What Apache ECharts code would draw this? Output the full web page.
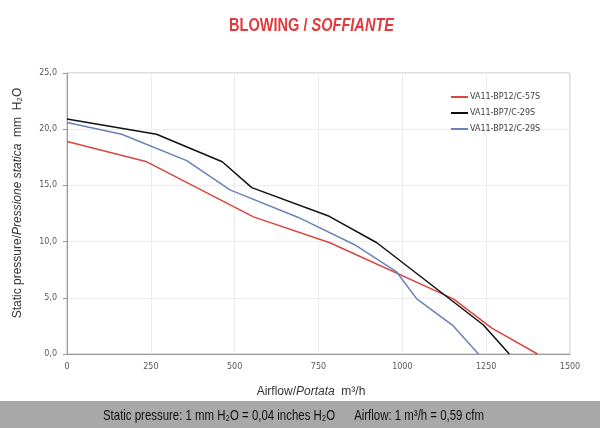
<!DOCTYPE html>
<html><head><meta charset="utf-8">
<script src="https://cdn.jsdelivr.net/npm/echarts@6/dist/echarts.min.js"></script>
<style>html,body{margin:0;padding:0;background:#fff}#c{width:600px;height:428px}</style>
</head><body><div id="c"></div>
<script>
const seriesNames = ['VA11-BP12/C-57S', 'VA11-BP7/C-29S', 'VA11-BP12/C-29S'];
const redX = [0, 238, 556, 784, 1152, 1267, 1403];
const redY = [18.9, 17.1, 12.2, 9.9, 4.9, 2.3, 0];
const blackX = [0, 267, 463, 551, 782, 924, 1241, 1319];
const blackY = [20.9, 19.55, 17.1, 14.8, 12.25, 9.9, 2.6, 0];
const blueX = [0, 163, 357, 486, 690, 859, 983, 1043, 1152, 1227];
const blueY = [20.6, 19.55, 17.2, 14.6, 12.15, 9.7, 7.3, 4.9, 2.5, 0];
const colors = ['#d9463e', '#111111', '#6b82b8'];
const titleA = 'BLOWING / ', titleB = 'SOFFIANTE';
const footText = 'Static pressure: 1 mm H₂O = 0,04 inches H₂O      Airflow: 1 m³/h = 0,59 cfm';

const FONT = '"Liberation Sans", Arial, sans-serif';
const ctx = document.createElement('canvas').getContext('2d');
function tw(text, font) { ctx.font = font; return ctx.measureText(text).width; }
const titleW = tw(titleA, 'bold 18px ' + FONT) + tw(titleB, 'italic bold 18px ' + FONT);
const titleScale = 165 / titleW;
const footScale = 381 / tw(footText, '15px ' + FONT);

const zip = (xs, ys) => xs.map((x, i) => [x, ys[i]]);
const chart = echarts.init(document.getElementById('c'));
chart.setOption({
  animation: false,
  legend: {
    orient: 'vertical', left: 446, top: 88, itemWidth: 17, itemHeight: 2, itemGap: 8,
    icon: 'rect',
    textStyle: { fontFamily: 'DejaVu Sans', fontSize: 8, color: '#404040', padding: [0, 0, 0, -3] },
    data: seriesNames
  },
  grid: { left: 67, right: 30, top: 73, bottom: 74, show: true, borderColor: '#bdbdbd', borderWidth: 1 },
  xAxis: {
    type: 'value', min: 0, max: 1500, interval: 250,
    axisLine: { show: true, lineStyle: { color: '#999' } },
    axisTick: { show: false },
    axisLabel: { fontFamily: 'DejaVu Sans', fontSize: 8, color: '#595959', margin: 9,
      formatter: v => String(v) },
    splitLine: { show: true, lineStyle: { color: '#ececec' } }
  },
  yAxis: {
    type: 'value', min: 0, max: 25, interval: 5,
    axisLine: { show: true, lineStyle: { color: '#999' } },
    axisTick: { show: true, length: 4, inside: false, lineStyle: { color: '#999' } },
    axisLabel: { fontFamily: 'DejaVu Sans', fontSize: 8, color: '#595959', margin: 10,
      formatter: v => v.toFixed(1).replace('.', ',') },
    splitLine: { show: true, lineStyle: { color: '#ececec' } }
  },
  series: [
    { name: seriesNames[0], type: 'line', data: zip(redX, redY), symbol: 'none', lineStyle: { width: 1.5, color: colors[0] }, itemStyle: { color: colors[0] } },
    { name: seriesNames[1], type: 'line', data: zip(blackX, blackY), symbol: 'none', lineStyle: { width: 1.5, color: colors[1] }, itemStyle: { color: colors[1] } },
    { name: seriesNames[2], type: 'line', data: zip(blueX, blueY), symbol: 'none', lineStyle: { width: 1.5, color: colors[2] }, itemStyle: { color: colors[2] } }
  ],
  graphic: [
    { type: 'text', x: 311.5, y: 26, scaleX: titleScale, style: {
      text: '{b|' + titleA + '}{i|' + titleB + '}', align: 'center', verticalAlign: 'middle',
      rich: {
        b: { fontFamily: FONT, fontWeight: 'bold', fontSize: 18, fill: '#e03a3e' },
        i: { fontFamily: FONT, fontWeight: 'bold', fontStyle: 'italic', fontSize: 18, fill: '#e03a3e' }
      } } },
    { type: 'text', x: 311, y: 392, style: {
      text: '{a|Airflow/}{i|Portata}{a|  m³/h}', align: 'center', verticalAlign: 'middle',
      rich: {
        a: { fontFamily: FONT, fontSize: 12, fill: '#333' },
        i: { fontFamily: FONT, fontStyle: 'italic', fontSize: 12, fill: '#333' }
      } } },
    { type: 'text', x: 18, y: 203, rotation: Math.PI / 2, style: {
      text: '{a|Static pressure/}{i|Pressione statica}{a|  mm  H₂O}', align: 'center', verticalAlign: 'middle',
      rich: {
        a: { fontFamily: FONT, fontSize: 12, fill: '#333' },
        i: { fontFamily: FONT, fontStyle: 'italic', fontSize: 12, fill: '#333' }
      } } },
    { type: 'rect', shape: { x: 0, y: 401, width: 600, height: 27 }, style: { fill: '#a8a8a8' }, z: -1 },
    { type: 'text', x: 293.5, y: 416, scaleX: footScale, style: {
      text: footText, fontFamily: FONT, fontSize: 15, fill: '#111', align: 'center', verticalAlign: 'middle' } }
  ]
});
</script></body></html>
